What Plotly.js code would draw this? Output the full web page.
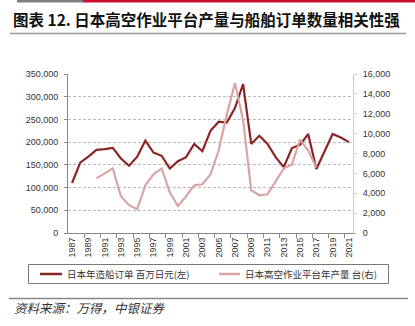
<!DOCTYPE html>
<html>
<head>
<meta charset="utf-8">
<script src="https://cdn.plot.ly/plotly-3.0.1.min.js"></script>
<style>
html,body{margin:0;padding:0;background:#fff;}
#chart{width:415px;height:326px;}
</style>
</head>
<body>
<div id="chart"></div>
<script>
// ---- data ----
const years = [1987,1988,1989,1990,1991,1992,1993,1994,1995,1996,1997,1998,1999,2000,2001,2002,2003,2004,2005,2006,2007,2008,2009,2010,2011,2012,2013,2014,2015,2016,2017,2018,2019,2020,2021];
const shipOrders = [110000,155000,168000,183000,184500,187500,164000,148000,168000,203500,177000,170000,142000,158000,167000,196000,180000,225000,245000,243000,275000,328000,196000,214000,196000,167000,145000,187000,194000,218000,141000,180000,218000,210000,200000];
const awpOutput = [null,null,null,5500,6000,6500,3700,2800,2400,4800,5900,6500,4100,2700,3700,4800,4900,5900,8300,11900,15100,11400,4300,3800,3900,5200,6500,6900,9400,8300,6600,null,null,null,null];
const xTickVals = [1987,1989,1991,1993,1995,1997,1999,2001,2003,2005,2007,2009,2011,2013,2015,2017,2019,2021];
const xTickText = xTickVals.map(String);
const seriesNames = ['日本年造船订单 百万日元(左)', '日本高空作业平台年产量 台(右)'];
const titleText = '图表 12. 日本高空作业平台产量与船舶订单数量相关性强';
const sourceText = '资料来源：万得，中银证券';

// ---- layout geometry ----
const W = 415, H = 326;
const M = {l:68, r:62, t:74, b:93};
const PW = W - M.l - M.r, PH = H - M.t - M.b;
const px = x => (x - M.l) / PW;
const py = y => (H - M.b - y) / PH;

const darkRed = '#8B2525';
const lightRed = '#DBA4A4';
const cjk = '"Noto Sans CJK SC", "Noto Sans", sans-serif';
const num = '"Liberation Sans", Arial, sans-serif';

const traces = [
  {x: years, y: shipOrders, name: seriesNames[0], type: 'scatter', mode: 'lines',
   line: {color: darkRed, width: 2.2}, yaxis: 'y'},
  {x: years, y: awpOutput, name: seriesNames[1], type: 'scatter', mode: 'lines',
   line: {color: lightRed, width: 2.2}, yaxis: 'y2', connectgaps: false}
];

// legend drawn as shapes + annotations (box geometry of the reference)
const legendY = 274;
const legendItems = [
  {name: seriesNames[0], color: darkRed, lx0: 40, lx1: 62, tx: 65},
  {name: seriesNames[1], color: lightRed, lx0: 219, lx1: 240, tx: 243}
];

const shapes = [
  {type: 'rect', xref: 'paper', yref: 'paper', x0: px(17), x1: px(83), y0: py(0), y1: py(2.5), fillcolor: '#7f7f7f', line: {width: 0}},
  {type: 'rect', xref: 'paper', yref: 'paper', x0: px(83), x1: px(415), y0: py(0), y1: py(2.5), fillcolor: '#C8102E', line: {width: 0}},
  {type: 'line', xref: 'paper', yref: 'paper', x0: px(10), x1: px(406), y0: py(33.5), y1: py(33.5), line: {color: '#999', width: 1.5}},
  {type: 'line', xref: 'paper', yref: 'paper', x0: px(9), x1: px(408), y0: py(298.5), y1: py(298.5), line: {color: '#888', width: 1.5}},
  {type: 'rect', xref: 'paper', yref: 'paper', x0: px(28.5), x1: px(388.5), y0: py(264.5), y1: py(283.5), line: {color: '#777', width: 1}, fillcolor: 'rgba(0,0,0,0)'}
];
const annotations = [
  {text: '<b>' + titleText + '</b>', xref: 'paper', yref: 'paper', x: px(11), y: py(19), xanchor: 'left', yanchor: 'middle', showarrow: false,
   font: {family: cjk, size: 15.5, color: '#111'}},
  {text: '<i>' + sourceText + '</i>', xref: 'paper', yref: 'paper', x: px(12), y: py(307), xanchor: 'left', yanchor: 'middle', showarrow: false,
   font: {family: cjk, size: 12.5, color: '#333'}}
];
legendItems.forEach(it => {
  shapes.push({type: 'line', xref: 'paper', yref: 'paper', x0: px(it.lx0), x1: px(it.lx1), y0: py(legendY), y1: py(legendY), line: {color: it.color, width: 2.5}});
  annotations.push({text: it.name, xref: 'paper', yref: 'paper', x: px(it.tx), y: py(legendY), xanchor: 'left', yanchor: 'middle', showarrow: false,
    font: {family: cjk, size: 9.5, color: '#333'}});
});

const layout = {
  width: W, height: H,
  margin: M,
  paper_bgcolor: '#fff', plot_bgcolor: '#fff',
  showlegend: false,
  xaxis: {
    range: [1986.5, 2021.5], tickmode: 'array', tickvals: xTickVals, ticktext: xTickText,
    tickangle: -90, ticks: '', showgrid: false, zeroline: false,
    showline: true, linecolor: '#888', linewidth: 1,
    tickfont: {family: num, size: 9, color: '#333'},
    minor: {tickmode: 'array', tickvals: xTickVals.slice(0, -1).map(v => v + 1.5), ticks: 'outside', ticklen: 4, tickcolor: '#888', showgrid: false}
  },
  yaxis: {
    range: [0, 350000], dtick: 50000, tickformat: ',', tickmode: 'linear', tick0: 0,
    showgrid: true, gridcolor: '#bbb', griddash: '3px,2px', gridwidth: 1,
    zeroline: false, showline: true, linecolor: '#888', linewidth: 1,
    ticks: 'outside', ticklen: 3, tickcolor: '#888', ticklabelstandoff: 4,
    tickfont: {family: num, size: 9, color: '#333'}
  },
  yaxis2: {
    range: [0, 16000], dtick: 2000, tick0: 0, tickmode: 'linear', tickformat: ',',
    overlaying: 'y', side: 'right', showgrid: false, zeroline: false,
    showline: true, linecolor: '#ccc', linewidth: 1,
    ticks: 'outside', ticklen: 3, tickcolor: '#ccc', ticklabelstandoff: 4,
    tickfont: {family: num, size: 9, color: '#333'}
  },
  shapes: shapes,
  annotations: annotations
};

Plotly.newPlot('chart', traces, layout, {displayModeBar: false, staticPlot: true});
</script>
</body>
</html>
